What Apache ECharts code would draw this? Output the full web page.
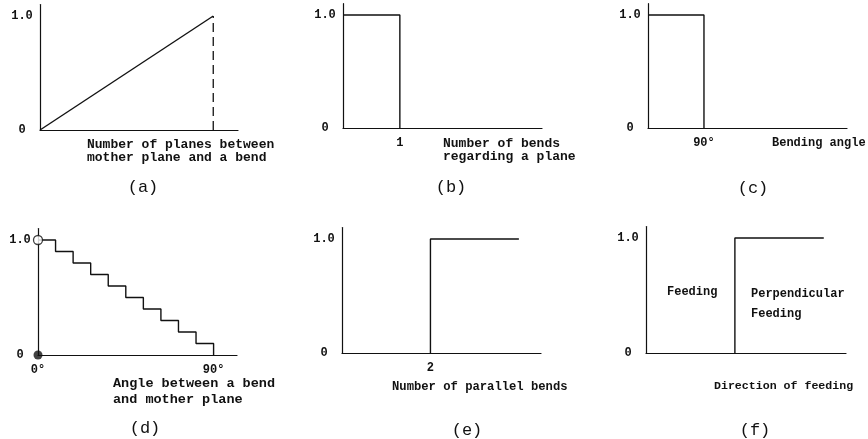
<!DOCTYPE html>
<html>
<head>
<meta charset="utf-8">
<script src="https://cdn.jsdelivr.net/npm/echarts@6/dist/echarts.min.js"></script>
<style>
html,body{margin:0;padding:0;background:#fff;}
#chart{width:868px;height:439px;}
</style>
</head>
<body>
<div id="chart"></div>
<script>
// ---- data ----
// (a) membership rises linearly with number of planes
const aPlanes = [0, 7];
const aValues = [0, 1];
const aDashX = [7, 7];
const aDashY = [0, 1];
// (b) number of bends regarding a plane
const bBends = [0, 1, 1];
const bValues = [1, 1, 0];
// (c) bending angle
const cAngles = [0, 90, 90];
const cValues = [1, 1, 0];
// (d) angle between a bend and mother plane (staircase)
const dAngles = [0, 9, 18, 27, 36, 45, 54, 63, 72, 81, 90];
const dValues = [1.0, 0.9, 0.8, 0.7, 0.6, 0.5, 0.4, 0.3, 0.2, 0.1, 0];
const dOpenPoint = [0, 1.0];
const dFilledPoint = [0, 0];
// (e) number of parallel bends
const eBends = [2, 2, 4];
const eValues = [0, 1, 1];
// (f) direction of feeding
const fDirection = [2, 2, 4];
const fValues = [0, 1, 1];

// tick labels
const yTickValues = [0, 1];
const yTickText = {0: '0', 1: '1.0'};
const bXTicks = [1];
const cXTicks = [90];
const dXTicks = [0, 90];
const eXTicks = [2];

const zip = (xs, ys) => xs.map((x, i) => [x, ys[i]]);

const grids = [
  {left: 40,  top: 4.6,   width: 198, height: 125.4},
  {left: 343, top: 3.7,   width: 199, height: 124.3},
  {left: 648, top: 3.7,   width: 199, height: 124.3},
  {left: 38,  top: 228.5, width: 199, height: 126.5},
  {left: 342, top: 227.6, width: 199, height: 125.4},
  {left: 646, top: 226.5, width: 200, height: 126.5}
].map(g => Object.assign({outerBoundsMode: 'none', containLabel: false}, g));

const xMax = [8, 3.5, 320, 102, 4.5, 4.5];
const xTicks = [[], bXTicks, cXTicks, dXTicks, eXTicks, []];
const xFmt = [
  v => '', v => String(v), v => v + '°', v => v + '°', v => String(v), v => ''
];
const labelFont = {fontFamily: 'Liberation Mono', fontWeight: 'bold', fontSize: 12, color: '#111'};

const axisLine = {show: true, onZero: false, lineStyle: {color: '#111', width: 1.2}};

const xAxis = xMax.map((m, i) => ({
  type: 'value', gridIndex: i, min: 0, max: m,
  axisLine: axisLine, axisTick: {show: false}, splitLine: {show: false},
  axisLabel: Object.assign({
    show: xTicks[i].length > 0, customValues: xTicks[i], margin: 9,
    formatter: xFmt[i]
  }, labelFont)
}));
const yAxis = grids.map((g, i) => ({
  type: 'value', gridIndex: i, min: 0, max: 1.1,
  axisLine: axisLine, axisTick: {show: false}, splitLine: {show: false},
  axisLabel: Object.assign({
    customValues: yTickValues, margin: 18, align: 'center',
    formatter: v => yTickText[v]
  }, labelFont)
}));

const lineBase = {type: 'line', showSymbol: false, silent: true, animation: false,
  lineStyle: {color: '#111', width: 1.4}};

const series = [
  Object.assign({}, lineBase, {xAxisIndex: 0, yAxisIndex: 0, data: zip(aPlanes, aValues)}),
  Object.assign({}, lineBase, {xAxisIndex: 0, yAxisIndex: 0, data: zip(aDashX, aDashY),
    lineStyle: {color: '#111', width: 1.3, type: [9, 5]}}),
  Object.assign({}, lineBase, {xAxisIndex: 1, yAxisIndex: 1, data: zip(bBends, bValues)}),
  Object.assign({}, lineBase, {xAxisIndex: 2, yAxisIndex: 2, data: zip(cAngles, cValues)}),
  Object.assign({}, lineBase, {xAxisIndex: 3, yAxisIndex: 3, step: 'end', data: zip(dAngles, dValues)}),
  {type: 'scatter', xAxisIndex: 3, yAxisIndex: 3, silent: true, animation: false, symbolSize: 9,
    itemStyle: {color: '#fff', borderColor: '#111', borderWidth: 1.3}, data: [dOpenPoint], z: 5},
  {type: 'scatter', xAxisIndex: 3, yAxisIndex: 3, silent: true, animation: false, symbolSize: 9,
    itemStyle: {color: '#111'}, data: [dFilledPoint], z: 5},
  Object.assign({}, lineBase, {xAxisIndex: 4, yAxisIndex: 4, data: zip(eBends, eValues)}),
  Object.assign({}, lineBase, {xAxisIndex: 5, yAxisIndex: 5, data: zip(fDirection, fValues)})
];

function txt(x, y, text, size, opts) {
  opts = opts || {};
  return {
    type: 'text', x: x, y: y, silent: true,
    style: {
      text: text,
      font: (opts.weight || 'bold') + ' ' + size + 'px "Liberation Mono"',
      fill: '#111',
      align: opts.align || 'left',
      verticalAlign: 'middle',
      lineHeight: opts.lh || 13
    }
  };
}

const graphic = [
  txt(87, 151, 'Number of planes between\nmother plane and a bend', 13),
  txt(443, 150.5, 'Number of bends\nregarding a plane', 13),
  txt(772, 143, 'Bending angle', 12),
  txt(113, 392, 'Angle between a bend\nand mother plane', 13.5, {lh: 16}),
  txt(392, 387, 'Number of parallel bends', 12.2),
  txt(714, 386, 'Direction of feeding', 11.6),
  txt(667, 292, 'Feeding', 12),
  txt(751, 304, 'Perpendicular\nFeeding', 12, {lh: 20}),
  txt(143, 187, '(a)', 17, {weight: 'normal', align: 'center'}),
  txt(451, 187, '(b)', 17, {weight: 'normal', align: 'center'}),
  txt(753, 188, '(c)', 17, {weight: 'normal', align: 'center'}),
  txt(145, 428, '(d)', 17, {weight: 'normal', align: 'center'}),
  txt(467, 430, '(e)', 17, {weight: 'normal', align: 'center'}),
  txt(755, 430, '(f)', 17, {weight: 'normal', align: 'center'})
];

const chart = echarts.init(document.getElementById('chart'), null, {renderer: 'canvas'});
chart.setOption({
  animation: false,
  backgroundColor: '#fff',
  grid: grids,
  xAxis: xAxis,
  yAxis: yAxis,
  series: series,
  graphic: graphic
});
</script>
</body>
</html>
